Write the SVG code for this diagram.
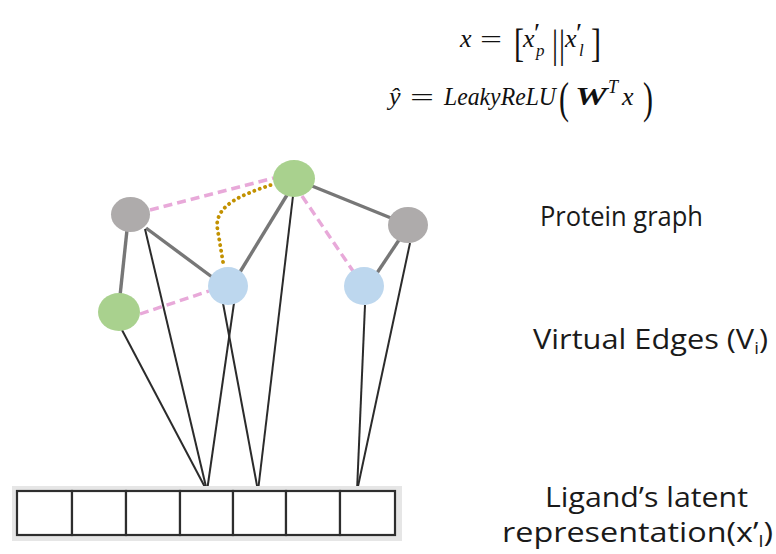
<svg xmlns="http://www.w3.org/2000/svg" width="776" height="554" viewBox="0 0 776 554">
<style>
.thick{stroke:#777;stroke-width:3.4;fill:none}
.thin{stroke:#2b2b2b;stroke-width:2;fill:none}
.pink{stroke:#e8a9d9;stroke-width:3.4;stroke-dasharray:9 5;fill:none}
.dot{stroke:#c29100;stroke-width:3.8;stroke-dasharray:0.1 5.6;stroke-linecap:round;fill:none}
.gray{fill:#aeabab}
.green{fill:#a9d18e}
.blue{fill:#bdd7ee}
.lbl{font-family:"Open Sans","Liberation Sans",sans-serif;font-size:28px;fill:#1a1a1a}
.m{font-family:"Liberation Serif","DejaVu Serif",serif;fill:#111}
.mi{font-style:italic}
.cell{fill:#fff;stroke:#2e2e2e;stroke-width:2.2}
</style>
<rect width="776" height="554" fill="#fff"/>
<g id="formula">
<text class="m mi" x="460" y="47" style="font-size:26px">x</text>
<text class="m" x="480" y="47" style="font-size:24px" textLength="22" lengthAdjust="spacingAndGlyphs">=</text>
<text class="m" transform="translate(514,57) scale(1,1.3)" style="font-size:30px">[</text>
<text class="m mi" x="523" y="47" style="font-size:26px">x</text>
<text class="m" x="534" y="42" style="font-size:28px">′</text>
<text class="m mi" x="536" y="56" style="font-size:17px">p</text>
<text class="m" transform="translate(552,57) scale(1,1.3)" style="font-size:30px">|</text>
<text class="m" transform="translate(559,57) scale(1,1.3)" style="font-size:30px">|</text>
<text class="m mi" x="565" y="47" style="font-size:26px">x</text>
<text class="m" x="576" y="42" style="font-size:28px">′</text>
<text class="m mi" x="579" y="56" style="font-size:17px">l</text>
<text class="m" transform="translate(591,57) scale(1,1.3)" style="font-size:30px">]</text>
<text class="m mi" x="389" y="105" style="font-size:26px">ŷ</text>
<text class="m" x="410" y="105" style="font-size:24px" textLength="24" lengthAdjust="spacingAndGlyphs">=</text>
<text class="m mi" x="444" y="105" style="font-size:26px" textLength="112" lengthAdjust="spacingAndGlyphs">LeakyReLU</text>
<text class="m" transform="translate(559,113) scale(1,1.45)" style="font-size:30px">(</text>
<text class="m mi" x="575" y="105" style="font-size:26px;font-weight:bold" textLength="32" lengthAdjust="spacingAndGlyphs">W</text>
<text class="m mi" x="608" y="93" style="font-size:18px">T</text>
<text class="m mi" x="622" y="105" style="font-size:26px">x</text>
<text class="m" transform="translate(643,113) scale(1,1.45)" style="font-size:30px">)</text>
</g>
<g id="connectors">
<line class="thick" x1="127" y1="230" x2="120" y2="296"/>
<line class="thick" x1="146" y1="228" x2="212" y2="277"/>
<line class="thick" x1="287" y1="195" x2="240" y2="272"/>
<line class="thick" x1="312" y1="186" x2="391" y2="218"/>
<line class="thick" x1="399" y1="240" x2="377" y2="273"/>
<line class="thin" x1="122" y1="330" x2="207" y2="491"/>
<line class="thin" x1="145" y1="229" x2="207" y2="491"/>
<line class="thin" x1="234" y1="303" x2="207" y2="491"/>
<line class="thin" x1="223" y1="303" x2="258" y2="491"/>
<line class="thin" x1="293" y1="196" x2="258" y2="491"/>
<line class="thin" x1="365" y1="305" x2="357" y2="491"/>
<line class="thin" x1="410" y1="243" x2="357" y2="491"/>
<line class="pink" x1="150" y1="210" x2="274" y2="178"/>
<line class="pink" x1="140" y1="314" x2="209" y2="291"/>
<line class="pink" x1="302" y1="196" x2="353" y2="271"/>
<path class="dot" d="M223,262 L217,226 C217,205 240,195 274,184"/>
</g>
<g id="node-gray-left"><ellipse class="gray" cx="130.5" cy="214.5" rx="19.5" ry="17.5"/></g>
<g id="node-green-top"><ellipse class="green" cx="294" cy="178.5" rx="21" ry="18.5"/></g>
<g id="node-gray-right"><ellipse class="gray" cx="408" cy="225" rx="20" ry="18"/></g>
<g id="node-blue-mid"><ellipse class="blue" cx="228" cy="286" rx="20" ry="19"/></g>
<g id="node-blue-right"><ellipse class="blue" cx="364" cy="286" rx="20" ry="19"/></g>
<g id="node-green-left"><ellipse class="green" cx="119" cy="312" rx="21" ry="19"/></g>
<g id="ligand-vector">
<rect x="12" y="486" width="390" height="55" fill="#e6e6e6"/>
<rect class="cell" x="17" y="491" width="55" height="44"/>
<rect class="cell" x="72" y="491" width="54" height="44"/>
<rect class="cell" x="126" y="491" width="54" height="44"/>
<rect class="cell" x="180" y="491" width="53" height="44"/>
<rect class="cell" x="233" y="491" width="53" height="44"/>
<rect class="cell" x="286" y="491" width="54" height="44"/>
<rect class="cell" x="340" y="491" width="55" height="44"/>
</g>
<g id="labels">
<text class="lbl" x="540" y="226" textLength="163" lengthAdjust="spacingAndGlyphs">Protein graph</text>
<text class="lbl" x="533" y="349" textLength="235" lengthAdjust="spacingAndGlyphs">Virtual Edges (V<tspan style="font-size:17px" dy="5">i</tspan><tspan dy="-5">)</tspan></text>
<text class="lbl" x="545" y="507" textLength="203" lengthAdjust="spacingAndGlyphs">Ligand’s latent</text>
<text class="lbl" x="502" y="542" textLength="271" lengthAdjust="spacingAndGlyphs">representation(x’<tspan style="font-size:17px" dy="5">l</tspan><tspan dy="-5">)</tspan></text>
</g>
</svg>
